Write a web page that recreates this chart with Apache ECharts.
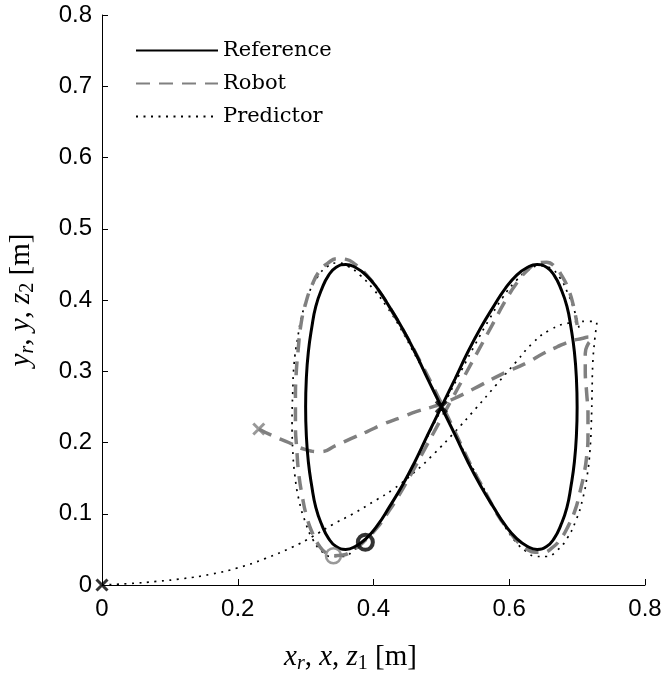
<!DOCTYPE html>
<html>
<head>
<meta charset="utf-8">
<script src="https://cdn.jsdelivr.net/npm/echarts@6/dist/echarts.min.js"></script>
<style>html,body{margin:0;padding:0;background:#fff;}#c{width:665px;height:680px;}</style>
</head>
<body>
<div id="c"></div>
<script>
// Reference figure-eight (x_r, y_r)
const refX = [0.5,0.520,0.539,0.558,0.577,0.594,0.611,0.627,0.641,0.655,0.666,0.676,0.685,0.691,0.696,0.699,0.7,
  0.699,0.696,0.691,0.685,0.676,0.666,0.655,0.641,0.627,0.611,0.594,0.577,0.558,0.539,0.520,0.5,
  0.480,0.461,0.442,0.423,0.406,0.389,0.373,0.359,0.345,0.334,0.324,0.315,0.309,0.304,0.301,0.3,
  0.301,0.304,0.309,0.315,0.324,0.334,0.345,0.359,0.373,0.389,0.406,0.423,0.442,0.461,0.480,0.5];
const refY = [0.25,0.289,0.327,0.361,0.391,0.416,0.435,0.446,0.45,0.446,0.435,0.416,0.391,0.361,0.327,0.289,0.25,
  0.211,0.173,0.139,0.109,0.084,0.065,0.054,0.05,0.054,0.065,0.084,0.109,0.139,0.173,0.211,0.25,
  0.289,0.327,0.361,0.391,0.416,0.435,0.446,0.45,0.446,0.435,0.416,0.391,0.361,0.327,0.289,0.25,
  0.211,0.173,0.139,0.109,0.084,0.065,0.054,0.05,0.054,0.065,0.084,0.109,0.139,0.173,0.211,0.25];
// Robot (x, y)
const robotX = [0.231,0.25,0.275,0.30,0.322,0.345,0.366,0.39,0.415,0.44,0.465,0.49,0.515,0.547,0.587,0.626,0.65,0.67,0.69,0.707,0.718,0.722,0.716,0.712,
  0.712,0.714,0.716,0.716,0.714,0.71,0.704,0.697,0.687,0.676,0.663,0.65,0.638,0.625,0.612,0.598,0.582,0.565,0.545,0.525,0.505,0.487,0.468,0.45,0.43,0.41,0.39,0.373,0.36,0.347,0.333,0.32,0.309,0.3,0.293,0.289,0.286,0.285,0.285,0.287,0.29,0.295,0.301,0.31,0.32,0.33,0.341,
  0.355,0.37,0.387,0.405,0.42,0.437,0.455,0.475,0.495,0.515,0.535,0.555,0.575,0.595,0.612,0.628,0.642,0.655,0.667,0.678,0.688,0.695,0.70];
const robotY = [0.219,0.21,0.2,0.19,0.187,0.196,0.205,0.215,0.226,0.235,0.244,0.251,0.26,0.275,0.295,0.312,0.325,0.334,0.342,0.346,0.348,0.346,0.338,0.325,
  0.30,0.27,0.24,0.21,0.18,0.155,0.13,0.105,0.083,0.065,0.052,0.046,0.046,0.051,0.061,0.078,0.1,0.13,0.165,0.205,0.245,0.28,0.315,0.347,0.38,0.41,0.435,0.45,0.457,0.458,0.452,0.44,0.42,0.395,0.365,0.33,0.295,0.26,0.225,0.19,0.155,0.125,0.098,0.073,0.055,0.045,0.041,
  0.042,0.049,0.062,0.08,0.1,0.125,0.155,0.19,0.225,0.26,0.295,0.33,0.365,0.4,0.425,0.443,0.452,0.453,0.447,0.433,0.413,0.39,0.365];
// Predictor (z1, z2)
const predX = [0,0.04,0.08,0.12,0.16,0.20,0.24,0.28,0.31,0.34,0.37,0.40,0.43,0.46,0.49,0.52,0.55,0.58,0.61,0.635,0.66,0.69,0.715,0.729,
  0.726,0.723,0.722,0.721,0.719,0.715,0.708,0.698,0.685,0.67,0.655,0.64,0.625,0.61,0.595,0.578,0.56,0.54,0.52,0.50,0.48,0.46,0.44,0.42,0.40,0.38,0.363,0.347,0.332,0.318,0.305,0.295,0.288,0.283,0.281,0.28,0.281,0.284,0.29,0.299,0.31,0.323,0.338,
  0.355,0.372,0.39,0.41,0.43,0.45,0.47,0.49,0.51,0.53,0.55,0.57,0.59,0.61,0.628,0.645,0.66,0.674,0.686,0.696,0.703];
const predY = [0,0.002,0.005,0.009,0.015,0.024,0.037,0.053,0.068,0.085,0.10,0.117,0.135,0.158,0.185,0.215,0.247,0.28,0.313,0.34,0.358,0.368,0.37,0.368,
  0.345,0.31,0.27,0.23,0.19,0.155,0.12,0.09,0.065,0.048,0.04,0.04,0.047,0.06,0.08,0.107,0.14,0.175,0.212,0.25,0.29,0.325,0.36,0.39,0.415,0.435,0.447,0.452,0.447,0.433,0.41,0.38,0.345,0.31,0.27,0.23,0.19,0.155,0.12,0.09,0.065,0.048,0.04,
  0.04,0.05,0.066,0.09,0.12,0.153,0.19,0.228,0.265,0.302,0.338,0.372,0.403,0.427,0.442,0.448,0.445,0.432,0.41,0.385,0.36];
// Markers
const blackCrossX = [0, 0.5];
const blackCrossY = [0, 0.25];
const grayCrossX = [0.231];
const grayCrossY = [0.219];
const blackCircleX = [0.388];
const blackCircleY = [0.06];
const grayCircleX = [0.341];
const grayCircleY = [0.041];
const xTicks = [0, 0.2, 0.4, 0.6, 0.8];
const yTicks = [0, 0.1, 0.2, 0.3, 0.4, 0.5, 0.6, 0.7, 0.8];

const zip = (a, b) => a.map((v, i) => [v, b[i]]);
const GRAY = '#808080';
const crossPath = 'path://M0,0L10,10M10,0L0,10';
const mathFont = 'Liberation Serif';
const fmt = ticks => v => ticks.indexOf(+v.toFixed(1)) >= 0 ? (v === 0 ? '0' : v.toFixed(1)) : '';
const mathRich = {
  i: {fontFamily: mathFont, fontStyle: 'italic', fontSize: 29, color: '#000'},
  n: {fontFamily: mathFont, fontSize: 29, color: '#000'},
  si: {fontFamily: mathFont, fontStyle: 'italic', fontSize: 20, color: '#000', padding: [14, 0, 0, 0]},
  s: {fontFamily: mathFont, fontSize: 20, color: '#000', padding: [14, 0, 0, 0]}
};

const chart = echarts.init(document.getElementById('c'), null, {renderer: 'canvas'});
chart.setOption({
  animation: false,
  backgroundColor: '#fff',
  grid: {left: 102, right: 20, top: 15, bottom: 95, containLabel: false, outerBoundsMode: 'none'},
  legend: {
    data: ['Reference', 'Robot', 'Predictor'],
    orient: 'vertical', left: 130, top: 35,
    itemWidth: 82, itemHeight: 14, itemGap: 12,
    itemStyle: {opacity: 0},
    textStyle: {fontFamily: 'DejaVu Serif', fontSize: 21, color: '#000'}
  },
  xAxis: {
    type: 'value', min: 0, max: 0.8, interval: 0.2,
    axisLine: {show: true, onZero: false, lineStyle: {color: '#000', width: 1}},
    axisTick: {show: true, inside: true, length: 6, lineStyle: {color: '#000'}},
    axisLabel: {margin: 12, fontFamily: 'Liberation Sans', fontSize: 24, color: '#000', formatter: fmt(xTicks)},
    splitLine: {show: false},
    name: '{i|x}{si|r}{n|, }{i|x}{n|, }{i|z}{s|1}{n| [m]}',
    nameLocation: 'middle', nameGap: 55,
    nameTextStyle: {padding: [0, 46, 0, 0], rich: mathRich}
  },
  yAxis: {
    type: 'value', min: 0, max: 0.8, interval: 0.1,
    axisLine: {show: true, onZero: false, lineStyle: {color: '#000', width: 1}},
    axisTick: {show: true, inside: true, length: 6, lineStyle: {color: '#000'}},
    axisLabel: {margin: 10, fontFamily: 'Liberation Sans', fontSize: 24, color: '#000', formatter: fmt(yTicks)},
    splitLine: {show: false},
    name: '{i|y}{si|r}{n|, }{i|y}{n|, }{i|z}{s|2}{n| [m]}',
    nameLocation: 'middle', nameGap: 64, nameRotate: 90,
    nameTextStyle: {rich: mathRich}
  },
  series: [
    {name: 'Predictor', type: 'line', data: zip(predX, predY), smooth: 0.5, symbol: 'none', z: 2,
      lineStyle: {color: '#000', width: 1.7, type: [2, 5.5]}, itemStyle: {color: '#000'}},
    {name: 'Robot', type: 'line', data: zip(robotX, robotY), smooth: 0.5, symbol: 'none', z: 3,
      lineStyle: {color: GRAY, width: 3.5, type: [14, 9]}, itemStyle: {color: GRAY}},
    {name: 'Reference', type: 'line', data: zip(refX, refY), smooth: 0.5, symbol: 'none', z: 4,
      lineStyle: {color: '#000', width: 3}, itemStyle: {color: '#000'}},
    {name: 'startRef', type: 'scatter', data: zip(blackCrossX, blackCrossY), symbol: crossPath, symbolSize: 11, z: 6,
      itemStyle: {color: 'none', borderColor: '#000', borderWidth: 3}},
    {name: 'startRobot', type: 'scatter', data: zip(grayCrossX, grayCrossY), symbol: crossPath, symbolSize: 11, z: 6,
      itemStyle: {color: 'none', borderColor: GRAY, borderWidth: 3}},
    {name: 'endRef', type: 'scatter', data: zip(blackCircleX, blackCircleY), symbol: 'circle', symbolSize: 15, z: 6,
      itemStyle: {color: 'none', borderColor: '#000', borderWidth: 4}},
    {name: 'endRobot', type: 'scatter', data: zip(grayCircleX, grayCircleY), symbol: 'circle', symbolSize: 15, z: 6,
      itemStyle: {color: 'none', borderColor: GRAY, borderWidth: 2.5}}
  ]
});
</script>
</body>
</html>
